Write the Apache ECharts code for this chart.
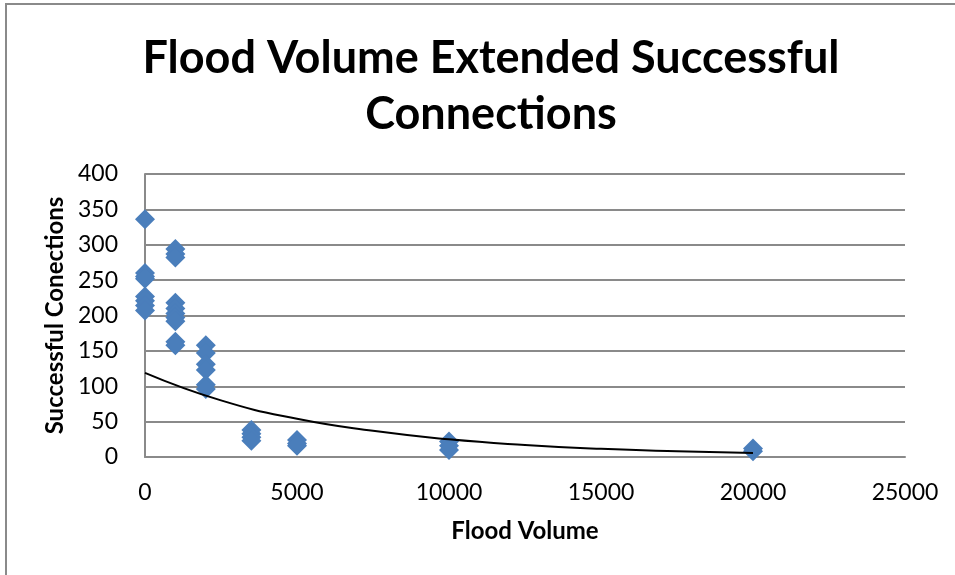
<!DOCTYPE html>
<html>
<head>
<meta charset="utf-8">
<script src="https://cdn.jsdelivr.net/npm/echarts@6/dist/echarts.min.js"></script>
<style>
  html, body { margin: 0; padding: 0; background: #fff; }
  #chart { width: 955px; height: 575px; }
</style>
</head>
<body>
<div id="chart"></div>
<script>
// Flood volume (x) and the successful connections measured at each volume
const vol0 = [336, 260, 255, 252, 227, 221, 214, 207];
const vol1000 = [294, 287, 282, 218, 210, 203, 197, 192, 163, 158];
const vol2000 = [158, 147, 131, 123, 102, 96];
const vol3500 = [38, 33, 28, 23];
const vol5000 = [24, 19, 16];
const vol10000 = [22, 16, 10];
const vol20000 = [12, 8];

// Exponential trendline, sampled along the flood-volume axis
const trendX = [0, 2500, 5000, 7500, 10000, 12500, 15000, 17500, 20000];
const trendY = [119, 80, 54, 37, 25, 17, 11.5, 8, 5.5];

const xTicks = [0, 5000, 10000, 15000, 20000, 25000];
const yTicks = [0, 50, 100, 150, 200, 250, 300, 350, 400];

const groups = [
  [0, vol0], [1000, vol1000], [2000, vol2000], [3500, vol3500],
  [5000, vol5000], [10000, vol10000], [20000, vol20000]
];
const points = [];
groups.forEach(([x, ys]) => ys.forEach(y => points.push([x, y])));
const trend = trendX.map((x, i) => [x, trendY[i]]);

const FONT = 'Lato';
const chart = echarts.init(document.getElementById('chart'), null, { renderer: 'canvas' });
chart.setOption({
  animation: false,
  backgroundColor: '#ffffff',
  title: {
    text: 'Flood Volume Extended Successful\nConnections',
    left: 486,
    top: 25,
    textAlign: 'center',
    textStyle: {
      fontFamily: FONT, fontWeight: 'bold', fontSize: 45,
      lineHeight: 56, color: '#000'
    }
  },
  graphic: [{
    type: 'rect',
    shape: { x: 6, y: 4, width: 1000, height: 700 },
    style: { fill: null, stroke: '#8a8a8a', lineWidth: 2 },
    silent: true
  }],
  grid: { left: 145, right: 50, top: 174, bottom: 118 },
  xAxis: {
    type: 'value',
    min: xTicks[0], max: xTicks[xTicks.length - 1], interval: 5000,
    name: 'Flood Volume',
    nameLocation: 'middle',
    nameGap: 62,
    nameTextStyle: { fontFamily: FONT, fontWeight: 'bold', fontSize: 24, color: '#000' },
    axisLine: { show: true, lineStyle: { color: '#8a8a8a', width: 2 } },
    axisTick: { show: false },
    splitLine: { show: false },
    axisLabel: {
      fontFamily: FONT, fontSize: 23, color: '#000', margin: 24,
      formatter: v => String(v)
    }
  },
  yAxis: {
    type: 'value',
    min: yTicks[0], max: yTicks[yTicks.length - 1], interval: 50,
    name: 'Successful Conections',
    nameLocation: 'middle',
    nameGap: 72,
    nameTextStyle: { fontFamily: FONT, fontWeight: 'bold', fontSize: 24, color: '#000' },
    axisLine: { show: true, lineStyle: { color: '#8a8a8a', width: 2 } },
    axisTick: { show: false },
    splitLine: { show: true, lineStyle: { color: '#8a8a8a', width: 2 } },
    axisLabel: {
      fontFamily: FONT, fontSize: 23, color: '#000', margin: 27,
      formatter: v => String(v)
    }
  },
  series: [
    {
      type: 'scatter',
      data: points,
      symbol: 'diamond',
      symbolSize: [20, 20],
      itemStyle: { color: '#4a7ebb', opacity: 1 },
      z: 2
    },
    {
      type: 'line',
      data: trend,
      smooth: true,
      showSymbol: false,
      lineStyle: { color: '#000', width: 2 },
      z: 3
    }
  ]
});
</script>
</body>
</html>
